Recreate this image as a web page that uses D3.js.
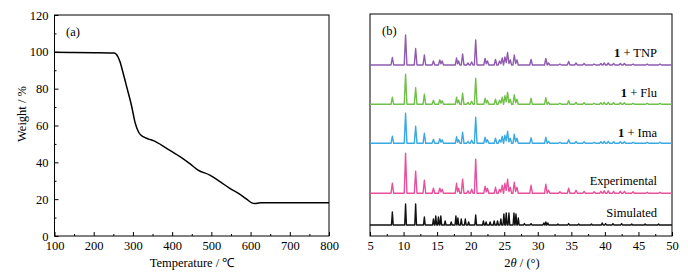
<!DOCTYPE html>
<html>
<head>
<meta charset="utf-8">
<script src="https://cdn.jsdelivr.net/npm/d3@7"></script>
<style>
  body { margin: 0; background: #fff; }
</style>
</head>
<body>
<div id="chart"></div>
<script>
// TGA curve (temperature / °C, weight / %)
const tgaTemp = [100, 150, 200, 240, 252, 258, 262, 267, 275, 284, 297, 305, 314, 320, 326, 340, 352, 386, 420, 445, 466, 496, 522, 547, 575, 590, 603, 610, 625, 700, 800];
const tgaWeight = [99.8, 99.6, 99.5, 99.4, 99.3, 98.6, 97.2, 94.6, 88.5, 81.1, 70.2, 62.0, 56.6, 54.8, 53.9, 52.6, 51.8, 47.6, 43.1, 39.3, 35.8, 33.1, 29.5, 25.9, 22.3, 20.0, 18.0, 17.6, 18.0, 18.0, 18.0];

// PXRD peaks (2θ, relative height)
const expAngles = [8.33, 10.3, 11.8, 13.1, 14.45, 15.4, 15.75, 17.9, 18.2, 18.8, 19.6, 20.15, 20.75, 22.15, 22.5, 23.7, 24.3, 24.7, 25.1, 25.5, 25.9, 26.5, 26.9, 29.0, 31.2, 31.6, 33.3, 34.6, 35.7, 36.9, 38.4, 39.4, 39.9, 40.5, 41.3, 42.3, 42.9, 44.2, 46.3, 48.2];
const expH = [10, 40, 22, 13, 5, 5, 4, 10, 5, 14, 2.5, 4, 34, 7, 5, 6, 4, 8, 10, 14, 6, 11, 6, 8, 9, 3, 1.5, 5, 3, 2, 1.5, 2, 2.5, 2.5, 2, 2, 2, 1.5, 1, 1];
const imaH = [7, 30, 17, 10, 4, 4.5, 3.5, 6.5, 3.5, 11, 2, 3, 26, 6, 3.5, 5, 3.5, 7, 8, 12, 5, 9, 5, 5.5, 6, 2, 1, 3.5, 2, 1.5, 1, 1.5, 2, 2, 1.5, 1.5, 1.5, 1, 1, 1];
const fluH = [7, 30, 16.5, 10, 4, 4.5, 3.5, 7, 4, 11, 2, 3, 26, 6, 4, 5, 4, 7, 8.5, 12, 5, 9.5, 5, 6, 6.5, 2, 1, 3.5, 2, 1.5, 1, 1.5, 2, 2, 1.5, 1.5, 1.5, 1, 1, 1];
const tnpH = [7.5, 30, 16.5, 10, 4, 5, 4, 7, 4, 11, 2, 3, 25, 6.5, 4, 5.5, 4, 7, 8, 12.5, 5, 10, 5, 5.5, 6.5, 2, 1, 3.5, 2, 1.5, 1, 1.5, 2, 2, 1.5, 1.5, 1.5, 1, 1, 1];

const simAngles = [8.33, 10.3, 11.8, 13.1, 14.45, 14.8, 15.2, 15.55, 16.2, 17.1, 17.8, 18.1, 18.6, 19.2, 19.7, 20.75, 21.9, 22.3, 22.9, 23.5, 24.0, 24.5, 24.95, 25.3, 25.7, 26.45, 26.75, 27.1, 28.0, 29.0, 30.9, 31.2, 31.5, 33.0, 34.6, 36.1, 38.0, 39.6, 40.1, 41.2, 42.5, 44.0, 46.0, 48.0];
const simH = [13, 21, 21, 8, 6, 9, 8, 9, 4, 3, 9, 7, 6, 6, 3, 10, 4, 3, 3, 4, 4, 6, 11, 12, 12, 12, 11, 7, 1.5, 1.5, 2, 3, 2, 1, 1.5, 1, 1, 2, 1.5, 1.5, 1.5, 1, 1, 1];

const patternNames = ["Simulated", "Experimental", "1 + Ima", "1 + Flu", "1 + TNP"];
const patternOffsets = [11, 42.7, 92.7, 131.7, 171];
const patternColors = ["#111111", "#e8509c", "#3aa8e2", "#6fbf48", "#8f5bb0"];

const tgaXTicks = [100, 200, 300, 400, 500, 600, 700, 800];
const tgaYTicks = [0, 20, 40, 60, 80, 100, 120];
const xrdXTicks = [5, 10, 15, 20, 25, 30, 35, 40, 45, 50];

const W = 688, H = 279;
const FONT = '"Liberation Serif", "Times New Roman", serif';
const svg = d3.select("#chart").append("svg")
    .attr("width", W)
    .attr("height", H);

// ---------- (a) TGA ----------
const xa = d3.scaleLinear().domain([100, 800]).range([54.5, 329]);
const ya = d3.scaleLinear().domain([0, 120]).range([236, 15]);

const ga = svg.append("g");

ga.append("g")
    .attr("transform", "translate(0,236)")
    .call(d3.axisBottom(xa).tickValues(d3.range(150, 800, 100)).tickSize(-2).tickFormat(""))
    .call(g => g.select(".domain").remove());
ga.append("g")
    .attr("transform", "translate(0,236)")
    .call(d3.axisBottom(xa).tickValues(tgaXTicks).tickSize(-4).tickPadding(5))
    .call(g => g.select(".domain").remove());
ga.append("g")
    .attr("transform", "translate(54.5,0)")
    .call(d3.axisLeft(ya).tickValues(d3.range(10, 120, 20)).tickSize(-2).tickFormat(""))
    .call(g => g.select(".domain").remove());
ga.append("g")
    .attr("transform", "translate(54.5,0)")
    .call(d3.axisLeft(ya).tickValues(tgaYTicks).tickSize(-4).tickPadding(6))
    .call(g => g.select(".domain").remove());

ga.append("rect")
    .attr("x", xa(100)).attr("y", ya(120))
    .attr("width", xa(800) - xa(100)).attr("height", ya(0) - ya(120))
    .attr("fill", "none").attr("stroke", "#000").attr("stroke-width", 1);

const tgaPts = tgaTemp.map((t, i) => [t, tgaWeight[i]]);
ga.append("path")
    .datum(tgaPts)
    .attr("fill", "none")
    .attr("stroke", "#000")
    .attr("stroke-width", 1.5)
    .attr("d", d3.line().x(d => xa(d[0])).y(d => ya(d[1])).curve(d3.curveMonotoneX));

ga.append("text").attr("x", 66).attr("y", 36).attr("font-size", 12.5).text("(a)");
ga.append("text")
    .attr("transform", "translate(26,114) rotate(-90)")
    .attr("text-anchor", "middle").attr("font-size", 12.5)
    .text("Weight / %");
ga.append("text")
    .attr("x", 192).attr("y", 267)
    .attr("text-anchor", "middle").attr("font-size", 12.5)
    .text("Temperature / ℃");

// ---------- (b) PXRD ----------
const xb = d3.scaleLinear().domain([5, 50]).range([370, 672]);
const yb = d3.scaleLinear().domain([0, 222]).range([236, 14]);

const gb = svg.append("g");

gb.append("g")
    .attr("transform", "translate(0,236)")
    .call(d3.axisBottom(xb).tickValues(d3.range(7.5, 50, 5)).tickSize(-2).tickFormat(""))
    .call(g => g.select(".domain").remove());
gb.append("g")
    .attr("transform", "translate(0,236)")
    .call(d3.axisBottom(xb).tickValues(xrdXTicks).tickSize(-4).tickPadding(5))
    .call(g => g.select(".domain").remove());

svg.selectAll(".tick text").attr("font-size", 12.5).attr("fill", "#000");
svg.selectAll(".tick line").attr("stroke", "#000");

gb.append("rect")
    .attr("x", xb(5)).attr("y", yb(222))
    .attr("width", xb(50) - xb(5)).attr("height", yb(0) - yb(222))
    .attr("fill", "none").attr("stroke", "#000").attr("stroke-width", 1);

// build a stick-like profile line from a peak list
function profile(angles, heights, base, hw) {
    const pts = [[5, base]];
    angles.forEach((a, i) => {
        const prev = angles[i - 1], next = angles[i + 1], h = heights[i];
        if (prev === undefined || a - prev >= 2 * hw) pts.push([a - hw, base]);
        pts.push([a, base + h]);
        if (next === undefined || next - a >= 2 * hw) pts.push([a + hw, base]);
        else pts.push([(a + next) / 2, base + 0.3 * Math.min(h, heights[i + 1])]);
    });
    pts.push([50, base]);
    return pts;
}

const patterns = [
    { angles: simAngles, h: simH, hw: 0.13 },
    { angles: expAngles, h: expH, hw: 0.2 },
    { angles: expAngles, h: imaH, hw: 0.2 },
    { angles: expAngles, h: fluH, hw: 0.2 },
    { angles: expAngles, h: tnpH, hw: 0.2 }
];

const lineB = d3.line().x(d => xb(d[0])).y(d => yb(d[1]));

patterns.forEach((p, i) => {
    gb.append("path")
        .datum(profile(p.angles, p.h, patternOffsets[i], p.hw))
        .attr("fill", "none")
        .attr("stroke", patternColors[i])
        .attr("stroke-width", 1.4)
        .attr("stroke-linejoin", "round")
        .attr("d", lineB);
});

const labelY = [217, 185, 137, 97, 57];
patternNames.forEach((name, i) => {
    const t = gb.append("text")
        .attr("x", 657).attr("y", labelY[i])
        .attr("text-anchor", "end").attr("font-size", 12.5);
    if (name.startsWith("1 ")) {
        t.append("tspan").attr("font-weight", "bold").text("1");
        t.append("tspan").text(name.slice(1));
    } else {
        t.text(name);
    }
});

gb.append("text").attr("x", 382).attr("y", 35).attr("font-size", 12.5).text("(b)");
const xt = gb.append("text")
    .attr("x", 522).attr("y", 267)
    .attr("text-anchor", "middle").attr("font-size", 12.5);
xt.append("tspan").text("2");
xt.append("tspan").attr("font-style", "italic").text("θ");
xt.append("tspan").text(" / (°)");

// every text in Times-like serif (axis groups default to sans-serif)
svg.selectAll("text").style("font-family", FONT);
</script>
</body>
</html>
